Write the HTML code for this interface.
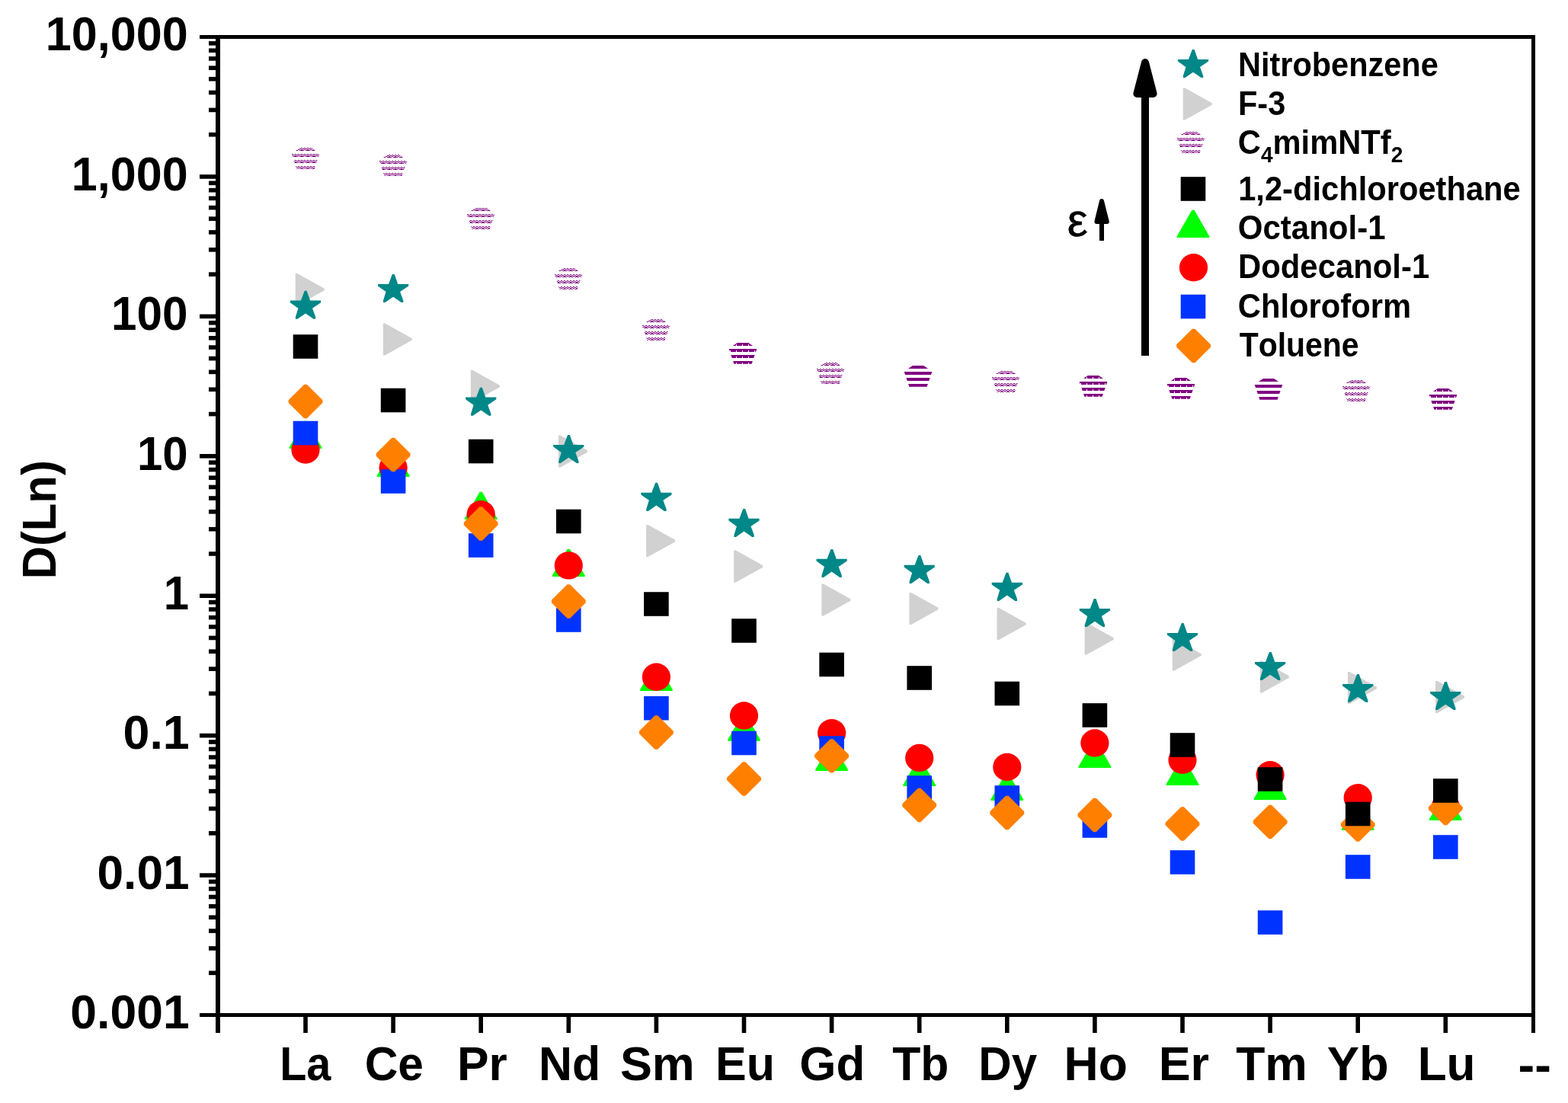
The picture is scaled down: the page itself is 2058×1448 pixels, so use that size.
<!DOCTYPE html>
<html lang="en">
<head>
<meta charset="utf-8">
<title>D(Ln) for lanthanides in different diluents</title>
<style>
html,body{margin:0;padding:0;background:#fff;}
body{width:2058px;height:1448px;overflow:hidden;}
svg{display:block;}
text{font-family:"Liberation Sans",sans-serif;font-weight:bold;fill:#000;font-kerning:none;}
</style>
</head>
<body>
<svg width="2058" height="1448" viewBox="0 0 2058 1448">
<defs>
<g fill="#800080">
<pattern id="hs" width="8" height="8" patternUnits="userSpaceOnUse"><rect x="2" y="0" width="2" height="1"/><rect x="6" y="0" width="2" height="1"/><rect x="0" y="1" width="2" height="1"/><rect x="4" y="1" width="2" height="1"/><rect x="2" y="2" width="2" height="1"/><rect x="6" y="2" width="2" height="1"/><rect x="0" y="3" width="6" height="1"/></pattern>
<pattern id="hd" width="8" height="8" patternUnits="userSpaceOnUse"><rect x="0" y="0" width="8" height="1"/><rect x="0" y="1" width="8" height="1"/><rect x="0" y="2" width="7" height="1"/><rect x="0" y="3" width="7" height="1"/></pattern>
<pattern id="hf" width="8" height="8" patternUnits="userSpaceOnUse"><rect x="0" y="0" width="8" height="1"/><rect x="0" y="1" width="8" height="1"/><rect x="0" y="2" width="8" height="1"/><rect x="0" y="3" width="8" height="1"/></pattern>
</g>
<clipPath id="pc"><polygon points="0,-5 18.4,7.8 11.6,27.8 -11.6,27.8 -18.4,7.8"/></clipPath>
</defs>
<rect width="2058" height="1448" fill="#fff"/>
<g fill="#000">
<g shape-rendering="crispEdges">
<rect x="262" y="46" width="1753" height="5"/>
<rect x="262" y="1330" width="1753" height="5"/>
<rect x="283" y="46" width="6" height="1310"/>
<rect x="2010" y="46" width="5" height="1310"/>
</g>
<rect x="274" y="54.09" width="10" height="5.6"/>
<rect x="274" y="63.48" width="10" height="5.6"/>
<rect x="274" y="74.11" width="10" height="5.6"/>
<rect x="274" y="86.39" width="10" height="5.6"/>
<rect x="274" y="100.92" width="10" height="5.6"/>
<rect x="274" y="118.69" width="10" height="5.6"/>
<rect x="274" y="141.61" width="10" height="5.6"/>
<rect x="274" y="173.91" width="10" height="5.6"/>
<rect x="262" y="229.13" width="22" height="5.6"/>
<rect x="274" y="237.52" width="10" height="5.6"/>
<rect x="274" y="246.9" width="10" height="5.6"/>
<rect x="274" y="257.54" width="10" height="5.6"/>
<rect x="274" y="269.82" width="10" height="5.6"/>
<rect x="274" y="284.35" width="10" height="5.6"/>
<rect x="274" y="302.12" width="10" height="5.6"/>
<rect x="274" y="325.04" width="10" height="5.6"/>
<rect x="274" y="357.34" width="10" height="5.6"/>
<rect x="262" y="412.56" width="22" height="5.6"/>
<rect x="274" y="420.95" width="10" height="5.6"/>
<rect x="274" y="430.33" width="10" height="5.6"/>
<rect x="274" y="440.97" width="10" height="5.6"/>
<rect x="274" y="453.25" width="10" height="5.6"/>
<rect x="274" y="467.77" width="10" height="5.6"/>
<rect x="274" y="485.55" width="10" height="5.6"/>
<rect x="274" y="508.47" width="10" height="5.6"/>
<rect x="274" y="540.77" width="10" height="5.6"/>
<rect x="262" y="595.99" width="22" height="5.6"/>
<rect x="274" y="604.38" width="10" height="5.6"/>
<rect x="274" y="613.76" width="10" height="5.6"/>
<rect x="274" y="624.4" width="10" height="5.6"/>
<rect x="274" y="636.68" width="10" height="5.6"/>
<rect x="274" y="651.2" width="10" height="5.6"/>
<rect x="274" y="668.98" width="10" height="5.6"/>
<rect x="274" y="691.9" width="10" height="5.6"/>
<rect x="274" y="724.2" width="10" height="5.6"/>
<rect x="262" y="779.41" width="22" height="5.6"/>
<rect x="274" y="787.81" width="10" height="5.6"/>
<rect x="274" y="797.19" width="10" height="5.6"/>
<rect x="274" y="807.83" width="10" height="5.6"/>
<rect x="274" y="820.11" width="10" height="5.6"/>
<rect x="274" y="834.63" width="10" height="5.6"/>
<rect x="274" y="852.41" width="10" height="5.6"/>
<rect x="274" y="875.33" width="10" height="5.6"/>
<rect x="274" y="907.63" width="10" height="5.6"/>
<rect x="262" y="962.84" width="22" height="5.6"/>
<rect x="274" y="971.24" width="10" height="5.6"/>
<rect x="274" y="980.62" width="10" height="5.6"/>
<rect x="274" y="991.26" width="10" height="5.6"/>
<rect x="274" y="1003.54" width="10" height="5.6"/>
<rect x="274" y="1018.06" width="10" height="5.6"/>
<rect x="274" y="1035.84" width="10" height="5.6"/>
<rect x="274" y="1058.75" width="10" height="5.6"/>
<rect x="274" y="1091.05" width="10" height="5.6"/>
<rect x="262" y="1146.27" width="22" height="5.6"/>
<rect x="274" y="1154.66" width="10" height="5.6"/>
<rect x="274" y="1164.05" width="10" height="5.6"/>
<rect x="274" y="1174.68" width="10" height="5.6"/>
<rect x="274" y="1186.96" width="10" height="5.6"/>
<rect x="274" y="1201.49" width="10" height="5.6"/>
<rect x="274" y="1219.26" width="10" height="5.6"/>
<rect x="274" y="1242.18" width="10" height="5.6"/>
<rect x="274" y="1274.48" width="10" height="5.6"/>
<rect x="398.2" y="1333" width="5.6" height="23"/>
<rect x="513.3" y="1333" width="5.6" height="23"/>
<rect x="628.4" y="1333" width="5.6" height="23"/>
<rect x="743.5" y="1333" width="5.6" height="23"/>
<rect x="858.6" y="1333" width="5.6" height="23"/>
<rect x="973.7" y="1333" width="5.6" height="23"/>
<rect x="1088.8" y="1333" width="5.6" height="23"/>
<rect x="1203.9" y="1333" width="5.6" height="23"/>
<rect x="1319" y="1333" width="5.6" height="23"/>
<rect x="1434.1" y="1333" width="5.6" height="23"/>
<rect x="1549.2" y="1333" width="5.6" height="23"/>
<rect x="1664.3" y="1333" width="5.6" height="23"/>
<rect x="1779.4" y="1333" width="5.6" height="23"/>
<rect x="1894.5" y="1333" width="5.6" height="23"/>
</g>
<g font-size="60">
<text transform="matrix(1.0182 0 0 1.0450 59.85 66.3)">10,000</text>
<text transform="matrix(1.0173 0 0 1.0450 93.86 249.73)">1,000</text>
<text transform="matrix(1.0035 0 0 1.0450 146.11 433.16)">100</text>
<text transform="matrix(1.0000 0 0 1.0450 179.92 616.59)">10</text>
<text transform="matrix(1.0000 0 0 1.0450 214.86 800.01)">1</text>
<text transform="matrix(1.0450 0 0 1.0450 161.52 983.44)">0.1</text>
<text transform="matrix(1.0366 0 0 1.0450 127.54 1166.87)">0.01</text>
<text transform="matrix(1.0410 0 0 1.0450 92.33 1350.3)">0.001</text>
<text transform="matrix(0.9595 0 0 1.0450 367.15 1418)">La</text>
<text transform="matrix(1.0071 0 0 1.0450 478.72 1418)">Ce</text>
<text transform="matrix(1.0385 0 0 1.0450 599.93 1418)">Pr</text>
<text transform="matrix(1.0151 0 0 1.0450 706.93 1418)">Nd</text>
<text transform="matrix(1.0487 0 0 1.0450 813.89 1418)">Sm</text>
<text transform="matrix(1.0174 0 0 1.0450 939.02 1418)">Eu</text>
<text transform="matrix(1.0325 0 0 1.0450 1049.26 1418)">Gd</text>
<text transform="matrix(1.0105 0 0 1.0450 1171.32 1418)">Tb</text>
<text transform="matrix(1.0033 0 0 1.0450 1284.17 1418)">Dy</text>
<text transform="matrix(1.0418 0 0 1.0450 1396.52 1418)">Ho</text>
<text transform="matrix(1.0471 0 0 1.0450 1520.7 1418)">Er</text>
<text transform="matrix(1.0408 0 0 1.0450 1622.2 1418)">Tm</text>
<text transform="matrix(1.0562 0 0 1.0450 1741.82 1418)">Yb</text>
<text transform="matrix(1.0362 0 0 1.0450 1860.64 1418)">Lu</text>
<text transform="matrix(1.0848 0 0 1.0450 1992.46 1420)">--</text>
<text transform="translate(72.9,760.2) rotate(-90) scale(0.9961,1.0450)">D(Ln)</text>
</g>
<g>
<g transform="translate(401,194)" clip-path="url(#pc)" shape-rendering="crispEdges"><rect x="-24" y="0" width="48" height="32" fill="url(#hs)"/></g>
<g transform="translate(516,203)" clip-path="url(#pc)" shape-rendering="crispEdges"><rect x="-24" y="0" width="48" height="32" fill="url(#hs)"/></g>
<g transform="translate(631,273)" clip-path="url(#pc)" shape-rendering="crispEdges"><rect x="-24" y="0" width="48" height="32" fill="url(#hs)"/></g>
<g transform="translate(746,352)" clip-path="url(#pc)" shape-rendering="crispEdges"><rect x="-24" y="0" width="48" height="32" fill="url(#hs)"/></g>
<g transform="translate(861,419)" clip-path="url(#pc)" shape-rendering="crispEdges"><rect x="-24" y="0" width="48" height="32" fill="url(#hs)"/></g>
<g transform="translate(975,450)" clip-path="url(#pc)" shape-rendering="crispEdges"><rect x="-24" y="0" width="48" height="32" fill="url(#hd)"/></g>
<g transform="translate(1090,476)" clip-path="url(#pc)" shape-rendering="crispEdges"><rect x="-24" y="0" width="48" height="32" fill="url(#hs)"/></g>
<g transform="translate(1205,480)" clip-path="url(#pc)" shape-rendering="crispEdges"><rect x="-24" y="0" width="48" height="32" fill="url(#hf)"/></g>
<g transform="translate(1320,487)" clip-path="url(#pc)" shape-rendering="crispEdges"><rect x="-24" y="0" width="48" height="32" fill="url(#hs)"/></g>
<g transform="translate(1435,493)" clip-path="url(#pc)" shape-rendering="crispEdges"><rect x="-24" y="0" width="48" height="32" fill="url(#hd)"/></g>
<g transform="translate(1550,496)" clip-path="url(#pc)" shape-rendering="crispEdges"><rect x="-24" y="0" width="48" height="32" fill="url(#hd)"/></g>
<g transform="translate(1665,497)" clip-path="url(#pc)" shape-rendering="crispEdges"><rect x="-24" y="0" width="48" height="32" fill="url(#hf)"/></g>
<g transform="translate(1780,499)" clip-path="url(#pc)" shape-rendering="crispEdges"><rect x="-24" y="0" width="48" height="32" fill="url(#hs)"/></g>
<g transform="translate(1894,510)" clip-path="url(#pc)" shape-rendering="crispEdges"><rect x="-24" y="0" width="48" height="32" fill="url(#hd)"/></g>
<polygon transform="translate(401,577)" points="-1.6,-24.2 1.6,-24.2 21.3,10.2 21.3,12 -21.3,12 -21.3,10.2" fill="#00ff00"/>
<polygon transform="translate(516.1,614)" points="-1.6,-24.2 1.6,-24.2 21.3,10.2 21.3,12 -21.3,12 -21.3,10.2" fill="#00ff00"/>
<polygon transform="translate(631.2,670)" points="-1.6,-24.2 1.6,-24.2 21.3,10.2 21.3,12 -21.3,12 -21.3,10.2" fill="#00ff00"/>
<polygon transform="translate(746.3,745)" points="-1.6,-24.2 1.6,-24.2 21.3,10.2 21.3,12 -21.3,12 -21.3,10.2" fill="#00ff00"/>
<polygon transform="translate(861.4,895)" points="-1.6,-24.2 1.6,-24.2 21.3,10.2 21.3,12 -21.3,12 -21.3,10.2" fill="#00ff00"/>
<polygon transform="translate(976.5,960.8)" points="-1.6,-24.2 1.6,-24.2 21.3,10.2 21.3,12 -21.3,12 -21.3,10.2" fill="#00ff00"/>
<polygon transform="translate(1091.6,1000)" points="-1.6,-24.2 1.6,-24.2 21.3,10.2 21.3,12 -21.3,12 -21.3,10.2" fill="#00ff00"/>
<polygon transform="translate(1206.7,1020)" points="-1.6,-24.2 1.6,-24.2 21.3,10.2 21.3,12 -21.3,12 -21.3,10.2" fill="#00ff00"/>
<polygon transform="translate(1321.8,1039)" points="-1.6,-24.2 1.6,-24.2 21.3,10.2 21.3,12 -21.3,12 -21.3,10.2" fill="#00ff00"/>
<polygon transform="translate(1436.9,996)" points="-1.6,-24.2 1.6,-24.2 21.3,10.2 21.3,12 -21.3,12 -21.3,10.2" fill="#00ff00"/>
<polygon transform="translate(1552,1019)" points="-1.6,-24.2 1.6,-24.2 21.3,10.2 21.3,12 -21.3,12 -21.3,10.2" fill="#00ff00"/>
<polygon transform="translate(1667.1,1038)" points="-1.6,-24.2 1.6,-24.2 21.3,10.2 21.3,12 -21.3,12 -21.3,10.2" fill="#00ff00"/>
<polygon transform="translate(1782.2,1078)" points="-1.6,-24.2 1.6,-24.2 21.3,10.2 21.3,12 -21.3,12 -21.3,10.2" fill="#00ff00"/>
<polygon transform="translate(1897.3,1065)" points="-1.6,-24.2 1.6,-24.2 21.3,10.2 21.3,12 -21.3,12 -21.3,10.2" fill="#00ff00"/>
<ellipse cx="401" cy="590.5" rx="18.6" ry="18.2" fill="#ff0000"/>
<ellipse cx="516.1" cy="614" rx="18.6" ry="18.2" fill="#ff0000"/>
<ellipse cx="631.2" cy="675.2" rx="18.6" ry="18.2" fill="#ff0000"/>
<ellipse cx="746.3" cy="742.4" rx="18.6" ry="18.2" fill="#ff0000"/>
<ellipse cx="861.4" cy="888.8" rx="18.6" ry="18.2" fill="#ff0000"/>
<ellipse cx="976.5" cy="939.5" rx="18.6" ry="18.2" fill="#ff0000"/>
<ellipse cx="1091.6" cy="962.2" rx="18.6" ry="18.2" fill="#ff0000"/>
<ellipse cx="1206.7" cy="995" rx="18.6" ry="18.2" fill="#ff0000"/>
<ellipse cx="1321.8" cy="1007" rx="18.6" ry="18.2" fill="#ff0000"/>
<ellipse cx="1436.9" cy="975.5" rx="18.6" ry="18.2" fill="#ff0000"/>
<ellipse cx="1552" cy="997.8" rx="18.6" ry="18.2" fill="#ff0000"/>
<ellipse cx="1667.1" cy="1017.3" rx="18.6" ry="18.2" fill="#ff0000"/>
<ellipse cx="1782.2" cy="1047.3" rx="18.6" ry="18.2" fill="#ff0000"/>
<ellipse cx="1897.3" cy="1059" rx="18.6" ry="18.2" fill="#ff0000"/>
<rect x="384.7" y="552.7" width="32.6" height="31.6" fill="#0033ff"/>
<rect x="499.8" y="616.2" width="32.6" height="31.6" fill="#0033ff"/>
<rect x="614.9" y="700.2" width="32.6" height="31.6" fill="#0033ff"/>
<rect x="730" y="798.2" width="32.6" height="31.6" fill="#0033ff"/>
<rect x="845.1" y="913.9" width="32.6" height="31.6" fill="#0033ff"/>
<rect x="960.2" y="959.7" width="32.6" height="31.6" fill="#0033ff"/>
<rect x="1075.3" y="966.2" width="32.6" height="31.6" fill="#0033ff"/>
<rect x="1190.4" y="1018.2" width="32.6" height="31.6" fill="#0033ff"/>
<rect x="1305.5" y="1031.2" width="32.6" height="31.6" fill="#0033ff"/>
<rect x="1420.6" y="1068.2" width="32.6" height="31.6" fill="#0033ff"/>
<rect x="1535.7" y="1116.2" width="32.6" height="31.6" fill="#0033ff"/>
<rect x="1650.8" y="1195.2" width="32.6" height="31.6" fill="#0033ff"/>
<rect x="1765.9" y="1122.2" width="32.6" height="31.6" fill="#0033ff"/>
<rect x="1881" y="1096.2" width="32.6" height="31.6" fill="#0033ff"/>
<polygon transform="translate(401,527)" points="-1.8,-22.2 1.8,-22.2 22.4,-1.8 22.4,1.8 1.8,22.2 -1.8,22.2 -22.4,1.8 -22.4,-1.8" fill="#ff8000"/>
<polygon transform="translate(516.1,597)" points="-1.8,-22.2 1.8,-22.2 22.4,-1.8 22.4,1.8 1.8,22.2 -1.8,22.2 -22.4,1.8 -22.4,-1.8" fill="#ff8000"/>
<polygon transform="translate(631.2,687.5)" points="-1.8,-22.2 1.8,-22.2 22.4,-1.8 22.4,1.8 1.8,22.2 -1.8,22.2 -22.4,1.8 -22.4,-1.8" fill="#ff8000"/>
<polygon transform="translate(746.3,789.5)" points="-1.8,-22.2 1.8,-22.2 22.4,-1.8 22.4,1.8 1.8,22.2 -1.8,22.2 -22.4,1.8 -22.4,-1.8" fill="#ff8000"/>
<polygon transform="translate(861.4,961.5)" points="-1.8,-22.2 1.8,-22.2 22.4,-1.8 22.4,1.8 1.8,22.2 -1.8,22.2 -22.4,1.8 -22.4,-1.8" fill="#ff8000"/>
<polygon transform="translate(976.5,1022.5)" points="-1.8,-22.2 1.8,-22.2 22.4,-1.8 22.4,1.8 1.8,22.2 -1.8,22.2 -22.4,1.8 -22.4,-1.8" fill="#ff8000"/>
<polygon transform="translate(1091.6,992.4)" points="-1.8,-22.2 1.8,-22.2 22.4,-1.8 22.4,1.8 1.8,22.2 -1.8,22.2 -22.4,1.8 -22.4,-1.8" fill="#ff8000"/>
<polygon transform="translate(1206.7,1057)" points="-1.8,-22.2 1.8,-22.2 22.4,-1.8 22.4,1.8 1.8,22.2 -1.8,22.2 -22.4,1.8 -22.4,-1.8" fill="#ff8000"/>
<polygon transform="translate(1321.8,1067)" points="-1.8,-22.2 1.8,-22.2 22.4,-1.8 22.4,1.8 1.8,22.2 -1.8,22.2 -22.4,1.8 -22.4,-1.8" fill="#ff8000"/>
<polygon transform="translate(1436.9,1070)" points="-1.8,-22.2 1.8,-22.2 22.4,-1.8 22.4,1.8 1.8,22.2 -1.8,22.2 -22.4,1.8 -22.4,-1.8" fill="#ff8000"/>
<polygon transform="translate(1552,1081.5)" points="-1.8,-22.2 1.8,-22.2 22.4,-1.8 22.4,1.8 1.8,22.2 -1.8,22.2 -22.4,1.8 -22.4,-1.8" fill="#ff8000"/>
<polygon transform="translate(1667.1,1079)" points="-1.8,-22.2 1.8,-22.2 22.4,-1.8 22.4,1.8 1.8,22.2 -1.8,22.2 -22.4,1.8 -22.4,-1.8" fill="#ff8000"/>
<polygon transform="translate(1782.2,1082.5)" points="-1.8,-22.2 1.8,-22.2 22.4,-1.8 22.4,1.8 1.8,22.2 -1.8,22.2 -22.4,1.8 -22.4,-1.8" fill="#ff8000"/>
<polygon transform="translate(1897.3,1061)" points="-1.8,-22.2 1.8,-22.2 22.4,-1.8 22.4,1.8 1.8,22.2 -1.8,22.2 -22.4,1.8 -22.4,-1.8" fill="#ff8000"/>
<rect x="384.7" y="439.2" width="32.6" height="31.6" fill="#000"/>
<rect x="499.8" y="509.7" width="32.6" height="31.6" fill="#000"/>
<rect x="614.9" y="576.7" width="32.6" height="31.6" fill="#000"/>
<rect x="730" y="668.7" width="32.6" height="31.6" fill="#000"/>
<rect x="845.1" y="777.2" width="32.6" height="31.6" fill="#000"/>
<rect x="960.2" y="812.2" width="32.6" height="31.6" fill="#000"/>
<rect x="1075.3" y="856.7" width="32.6" height="31.6" fill="#000"/>
<rect x="1190.4" y="874.2" width="32.6" height="31.6" fill="#000"/>
<rect x="1305.5" y="894.7" width="32.6" height="31.6" fill="#000"/>
<rect x="1420.6" y="923.2" width="32.6" height="31.6" fill="#000"/>
<rect x="1535.7" y="962.2" width="32.6" height="31.6" fill="#000"/>
<rect x="1650.8" y="1007.2" width="32.6" height="31.6" fill="#000"/>
<rect x="1765.9" y="1052.7" width="32.6" height="31.6" fill="#000"/>
<rect x="1881" y="1022.2" width="32.6" height="31.6" fill="#000"/>
<polygon transform="translate(401,380)" points="-13.3,-21 -10.8,-21 24.7,-1.2 24.7,1.2 -10.8,21 -13.3,21" fill="#d1d1d1"/>
<polygon transform="translate(516.1,445.4)" points="-13.3,-21 -10.8,-21 24.7,-1.2 24.7,1.2 -10.8,21 -13.3,21" fill="#d1d1d1"/>
<polygon transform="translate(631.2,507)" points="-13.3,-21 -10.8,-21 24.7,-1.2 24.7,1.2 -10.8,21 -13.3,21" fill="#d1d1d1"/>
<polygon transform="translate(746.3,592.5)" points="-13.3,-21 -10.8,-21 24.7,-1.2 24.7,1.2 -10.8,21 -13.3,21" fill="#d1d1d1"/>
<polygon transform="translate(861.4,710)" points="-13.3,-21 -10.8,-21 24.7,-1.2 24.7,1.2 -10.8,21 -13.3,21" fill="#d1d1d1"/>
<polygon transform="translate(976.5,743.5)" points="-13.3,-21 -10.8,-21 24.7,-1.2 24.7,1.2 -10.8,21 -13.3,21" fill="#d1d1d1"/>
<polygon transform="translate(1091.6,787.5)" points="-13.3,-21 -10.8,-21 24.7,-1.2 24.7,1.2 -10.8,21 -13.3,21" fill="#d1d1d1"/>
<polygon transform="translate(1206.7,799)" points="-13.3,-21 -10.8,-21 24.7,-1.2 24.7,1.2 -10.8,21 -13.3,21" fill="#d1d1d1"/>
<polygon transform="translate(1321.8,819)" points="-13.3,-21 -10.8,-21 24.7,-1.2 24.7,1.2 -10.8,21 -13.3,21" fill="#d1d1d1"/>
<polygon transform="translate(1436.9,838.5)" points="-13.3,-21 -10.8,-21 24.7,-1.2 24.7,1.2 -10.8,21 -13.3,21" fill="#d1d1d1"/>
<polygon transform="translate(1552,859.5)" points="-13.3,-21 -10.8,-21 24.7,-1.2 24.7,1.2 -10.8,21 -13.3,21" fill="#d1d1d1"/>
<polygon transform="translate(1667.1,888.5)" points="-13.3,-21 -10.8,-21 24.7,-1.2 24.7,1.2 -10.8,21 -13.3,21" fill="#d1d1d1"/>
<polygon transform="translate(1782.2,903)" points="-13.3,-21 -10.8,-21 24.7,-1.2 24.7,1.2 -10.8,21 -13.3,21" fill="#d1d1d1"/>
<polygon transform="translate(1897.3,915)" points="-13.3,-21 -10.8,-21 24.7,-1.2 24.7,1.2 -10.8,21 -13.3,21" fill="#d1d1d1"/>
<polygon transform="translate(401,402.7)" points="-1.2,-21 1.6,-21 6.1,-8.1 20.1,-8.1 20.1,-5.4 9,2 13.2,13.4 13.2,16.1 10.6,16.1 0,8.7 -10.6,16.1 -13.1,16.1 -13.1,13.4 -9.6,2 -20.1,-5.4 -20.1,-8.1 -6.1,-8.1" fill="#008787"/>
<polygon transform="translate(516.1,381)" points="-1.2,-21 1.6,-21 6.1,-8.1 20.1,-8.1 20.1,-5.4 9,2 13.2,13.4 13.2,16.1 10.6,16.1 0,8.7 -10.6,16.1 -13.1,16.1 -13.1,13.4 -9.6,2 -20.1,-5.4 -20.1,-8.1 -6.1,-8.1" fill="#008787"/>
<polygon transform="translate(631.2,529.7)" points="-1.2,-21 1.6,-21 6.1,-8.1 20.1,-8.1 20.1,-5.4 9,2 13.2,13.4 13.2,16.1 10.6,16.1 0,8.7 -10.6,16.1 -13.1,16.1 -13.1,13.4 -9.6,2 -20.1,-5.4 -20.1,-8.1 -6.1,-8.1" fill="#008787"/>
<polygon transform="translate(746.3,592)" points="-1.2,-21 1.6,-21 6.1,-8.1 20.1,-8.1 20.1,-5.4 9,2 13.2,13.4 13.2,16.1 10.6,16.1 0,8.7 -10.6,16.1 -13.1,16.1 -13.1,13.4 -9.6,2 -20.1,-5.4 -20.1,-8.1 -6.1,-8.1" fill="#008787"/>
<polygon transform="translate(861.4,654.8)" points="-1.2,-21 1.6,-21 6.1,-8.1 20.1,-8.1 20.1,-5.4 9,2 13.2,13.4 13.2,16.1 10.6,16.1 0,8.7 -10.6,16.1 -13.1,16.1 -13.1,13.4 -9.6,2 -20.1,-5.4 -20.1,-8.1 -6.1,-8.1" fill="#008787"/>
<polygon transform="translate(976.5,688.9)" points="-1.2,-21 1.6,-21 6.1,-8.1 20.1,-8.1 20.1,-5.4 9,2 13.2,13.4 13.2,16.1 10.6,16.1 0,8.7 -10.6,16.1 -13.1,16.1 -13.1,13.4 -9.6,2 -20.1,-5.4 -20.1,-8.1 -6.1,-8.1" fill="#008787"/>
<polygon transform="translate(1091.6,741.9)" points="-1.2,-21 1.6,-21 6.1,-8.1 20.1,-8.1 20.1,-5.4 9,2 13.2,13.4 13.2,16.1 10.6,16.1 0,8.7 -10.6,16.1 -13.1,16.1 -13.1,13.4 -9.6,2 -20.1,-5.4 -20.1,-8.1 -6.1,-8.1" fill="#008787"/>
<polygon transform="translate(1206.7,749.9)" points="-1.2,-21 1.6,-21 6.1,-8.1 20.1,-8.1 20.1,-5.4 9,2 13.2,13.4 13.2,16.1 10.6,16.1 0,8.7 -10.6,16.1 -13.1,16.1 -13.1,13.4 -9.6,2 -20.1,-5.4 -20.1,-8.1 -6.1,-8.1" fill="#008787"/>
<polygon transform="translate(1321.8,772.8)" points="-1.2,-21 1.6,-21 6.1,-8.1 20.1,-8.1 20.1,-5.4 9,2 13.2,13.4 13.2,16.1 10.6,16.1 0,8.7 -10.6,16.1 -13.1,16.1 -13.1,13.4 -9.6,2 -20.1,-5.4 -20.1,-8.1 -6.1,-8.1" fill="#008787"/>
<polygon transform="translate(1436.9,807)" points="-1.2,-21 1.6,-21 6.1,-8.1 20.1,-8.1 20.1,-5.4 9,2 13.2,13.4 13.2,16.1 10.6,16.1 0,8.7 -10.6,16.1 -13.1,16.1 -13.1,13.4 -9.6,2 -20.1,-5.4 -20.1,-8.1 -6.1,-8.1" fill="#008787"/>
<polygon transform="translate(1552,839)" points="-1.2,-21 1.6,-21 6.1,-8.1 20.1,-8.1 20.1,-5.4 9,2 13.2,13.4 13.2,16.1 10.6,16.1 0,8.7 -10.6,16.1 -13.1,16.1 -13.1,13.4 -9.6,2 -20.1,-5.4 -20.1,-8.1 -6.1,-8.1" fill="#008787"/>
<polygon transform="translate(1667.1,877)" points="-1.2,-21 1.6,-21 6.1,-8.1 20.1,-8.1 20.1,-5.4 9,2 13.2,13.4 13.2,16.1 10.6,16.1 0,8.7 -10.6,16.1 -13.1,16.1 -13.1,13.4 -9.6,2 -20.1,-5.4 -20.1,-8.1 -6.1,-8.1" fill="#008787"/>
<polygon transform="translate(1782.2,906)" points="-1.2,-21 1.6,-21 6.1,-8.1 20.1,-8.1 20.1,-5.4 9,2 13.2,13.4 13.2,16.1 10.6,16.1 0,8.7 -10.6,16.1 -13.1,16.1 -13.1,13.4 -9.6,2 -20.1,-5.4 -20.1,-8.1 -6.1,-8.1" fill="#008787"/>
<polygon transform="translate(1897.3,916)" points="-1.2,-21 1.6,-21 6.1,-8.1 20.1,-8.1 20.1,-5.4 9,2 13.2,13.4 13.2,16.1 10.6,16.1 0,8.7 -10.6,16.1 -13.1,16.1 -13.1,13.4 -9.6,2 -20.1,-5.4 -20.1,-8.1 -6.1,-8.1" fill="#008787"/>
</g>
<g>
<polygon transform="translate(1566,86)" points="-1.2,-21 1.6,-21 6.1,-8.1 20.1,-8.1 20.1,-5.4 9,2 13.2,13.4 13.2,16.1 10.6,16.1 0,8.7 -10.6,16.1 -13.1,16.1 -13.1,13.4 -9.6,2 -20.1,-5.4 -20.1,-8.1 -6.1,-8.1" fill="#008787"/>
<polygon transform="translate(1566,136.5)" points="-13.3,-21 -10.8,-21 24.7,-1.2 24.7,1.2 -10.8,21 -13.3,21" fill="#d1d1d1"/>
<g transform="translate(1563,173)" clip-path="url(#pc)" shape-rendering="crispEdges"><rect x="-24" y="0" width="48" height="32" fill="url(#hs)"/></g>
<rect x="1549.7" y="232.2" width="32.6" height="31.6" fill="#000"/>
<polygon transform="translate(1566,300)" points="-1.6,-24.2 1.6,-24.2 21.3,10.2 21.3,12 -21.3,12 -21.3,10.2" fill="#00ff00"/>
<ellipse cx="1566.5" cy="351.3" rx="18.6" ry="18.2" fill="#ff0000"/>
<rect x="1549.7" y="386.7" width="32.6" height="31.6" fill="#0033ff"/>
<polygon transform="translate(1566.6,454)" points="-1.8,-22.2 1.8,-22.2 22.4,-1.8 22.4,1.8 1.8,22.2 -1.8,22.2 -22.4,1.8 -22.4,-1.8" fill="#ff8000"/>
</g>
<g font-size="41.5">
<text transform="matrix(1.0001 0 0 1.0500 1624.92 100.2)">Nitrobenzene</text>
<text transform="matrix(1.0004 0 0 1.0500 1625.02 151.2)">F-3</text>
<text transform="matrix(1.0049 0 0 1.0500 1624.79 201.6)">C<tspan font-size="28" dy="10.5">4</tspan><tspan dy="-10.5">mimNTf</tspan><tspan font-size="28" dy="10.5">2</tspan></text>
<text transform="matrix(1.0049 0 0 1.0500 1625.17 263.2)">1,2-dichloroethane</text>
<text transform="matrix(1.0125 0 0 1.0500 1624.78 314)">Octanol-1</text>
<text transform="matrix(1.0088 0 0 1.0500 1625 365.2)">Dodecanol-1</text>
<text transform="matrix(1.0061 0 0 1.0500 1624.79 416.6)">Chloroform</text>
<text transform="matrix(0.9866 0 0 1.0500 1626.64 468.2)">Toluene</text>
</g>
<g fill="#000" stroke="#000" stroke-linejoin="round">
<rect x="1498" y="120" width="10" height="347" stroke="none" shape-rendering="crispEdges"/>
<polygon points="1503,82 1513.6,123 1492.4,123" stroke-width="10"/>
<rect x="1443" y="290" width="6" height="26" stroke="none" shape-rendering="crispEdges"/>
<polygon points="1446,264 1452.8,291 1439.4,291" stroke-width="6"/>
</g>
<text x="1400.7" y="310.4" font-size="60.5" style="font-weight:normal" stroke="#000" stroke-width="0.6">ε</text>
</svg>
</body>
</html>
